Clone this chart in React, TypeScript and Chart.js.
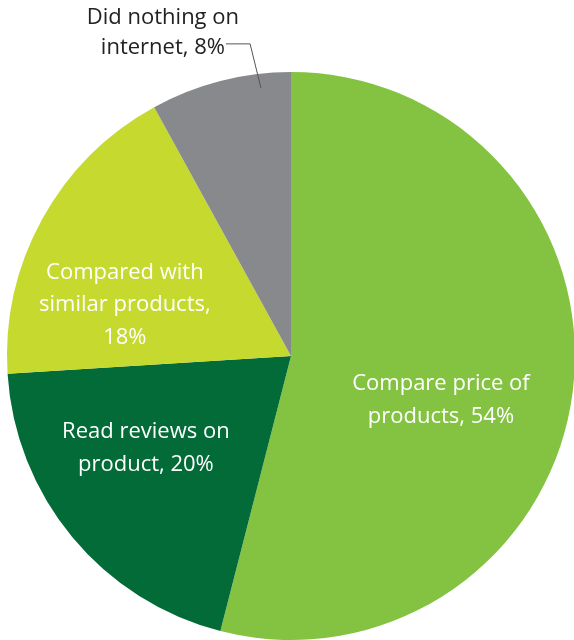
import React, { useEffect, useRef } from "react";
import { Chart, registerables } from "chart.js";

Chart.register(...registerables);

const categories = [
  ["Compare price of", "products, 54%"],
  ["Read reviews on", "product, 20%"],
  ["Compared with", "similar products,", "18%"],
  ["Did nothing on", "internet, 8%"],
];
const values = [54, 20, 18, 8];
const colors = ["#84C341", "#036B37", "#C6D92F", "#87898D"];
const labelColors = ["#FFFFFF", "#FFFFFF", "#FFFFFF", "#222222"];
// label anchors, in units of the pie radius relative to its centre
const labelAnchors = [
  [0.528, 0.155],
  [-0.511, 0.324],
  [-0.585, -0.18],
  [-0.451, -1.137],
];

const labelPlugin = {
  id: "pieLabels",
  afterDraw(chart: any) {
    const ctx = chart.ctx;
    const meta = chart.getDatasetMeta(0);
    const arc0 = meta.data[0];
    const cx = arc0.x;
    const cy = arc0.y;
    const r = arc0.outerRadius;
    ctx.save();
    ctx.font = "22px 'Open Sans'";
    ctx.textAlign = "center";
    ctx.textBaseline = "middle";
    const lh = 32.5;
    categories.forEach((lines, i) => {
      const [fx, fy] = labelAnchors[i];
      const x = cx + fx * r;
      const y = cy + fy * r;
      ctx.fillStyle = labelColors[i];
      const lineH = i === 3 ? 30 : lh;
      const start = y - ((lines.length - 1) * lineH) / 2;
      lines.forEach((t, j) => ctx.fillText(t, x, start + j * lineH));
    });
    // leader line for the small slice
    ctx.strokeStyle = "#555555";
    ctx.lineWidth = 1;
    ctx.beginPath();
    ctx.moveTo(cx - 0.229 * r, cy - 1.099 * r);
    ctx.lineTo(cx - 0.144 * r, cy - 1.099 * r);
    ctx.lineTo(cx - 0.106 * r, cy - 0.944 * r);
    ctx.stroke();
    ctx.restore();
  },
};

export default function App() {
  const ref = useRef<HTMLCanvasElement>(null);
  useEffect(() => {
    const chart = new Chart(ref.current!, {
      type: "pie",
      data: {
        labels: categories.map((c) => c.join(" ")),
        datasets: [
          {
            data: values,
            backgroundColor: colors,
            borderWidth: 0,
          },
        ],
      },
      options: {
        responsive: false,
        animation: false,
        layout: { padding: { left: 7, right: 25, top: 72, bottom: 0 } },
        plugins: {
          legend: { display: false },
          tooltip: { enabled: false },
        },
      },
      plugins: [labelPlugin],
    });
    return () => chart.destroy();
  }, []);
  return (
    <div
      style={{
        position: "fixed",
        left: 0,
        top: 0,
        width: 574,
        height: 640,
        overflow: "hidden",
        background: "#fff",
      }}
    >
      <canvas ref={ref} width={600} height={640} style={{ width: 600, height: 640 }} />
    </div>
  );
}
